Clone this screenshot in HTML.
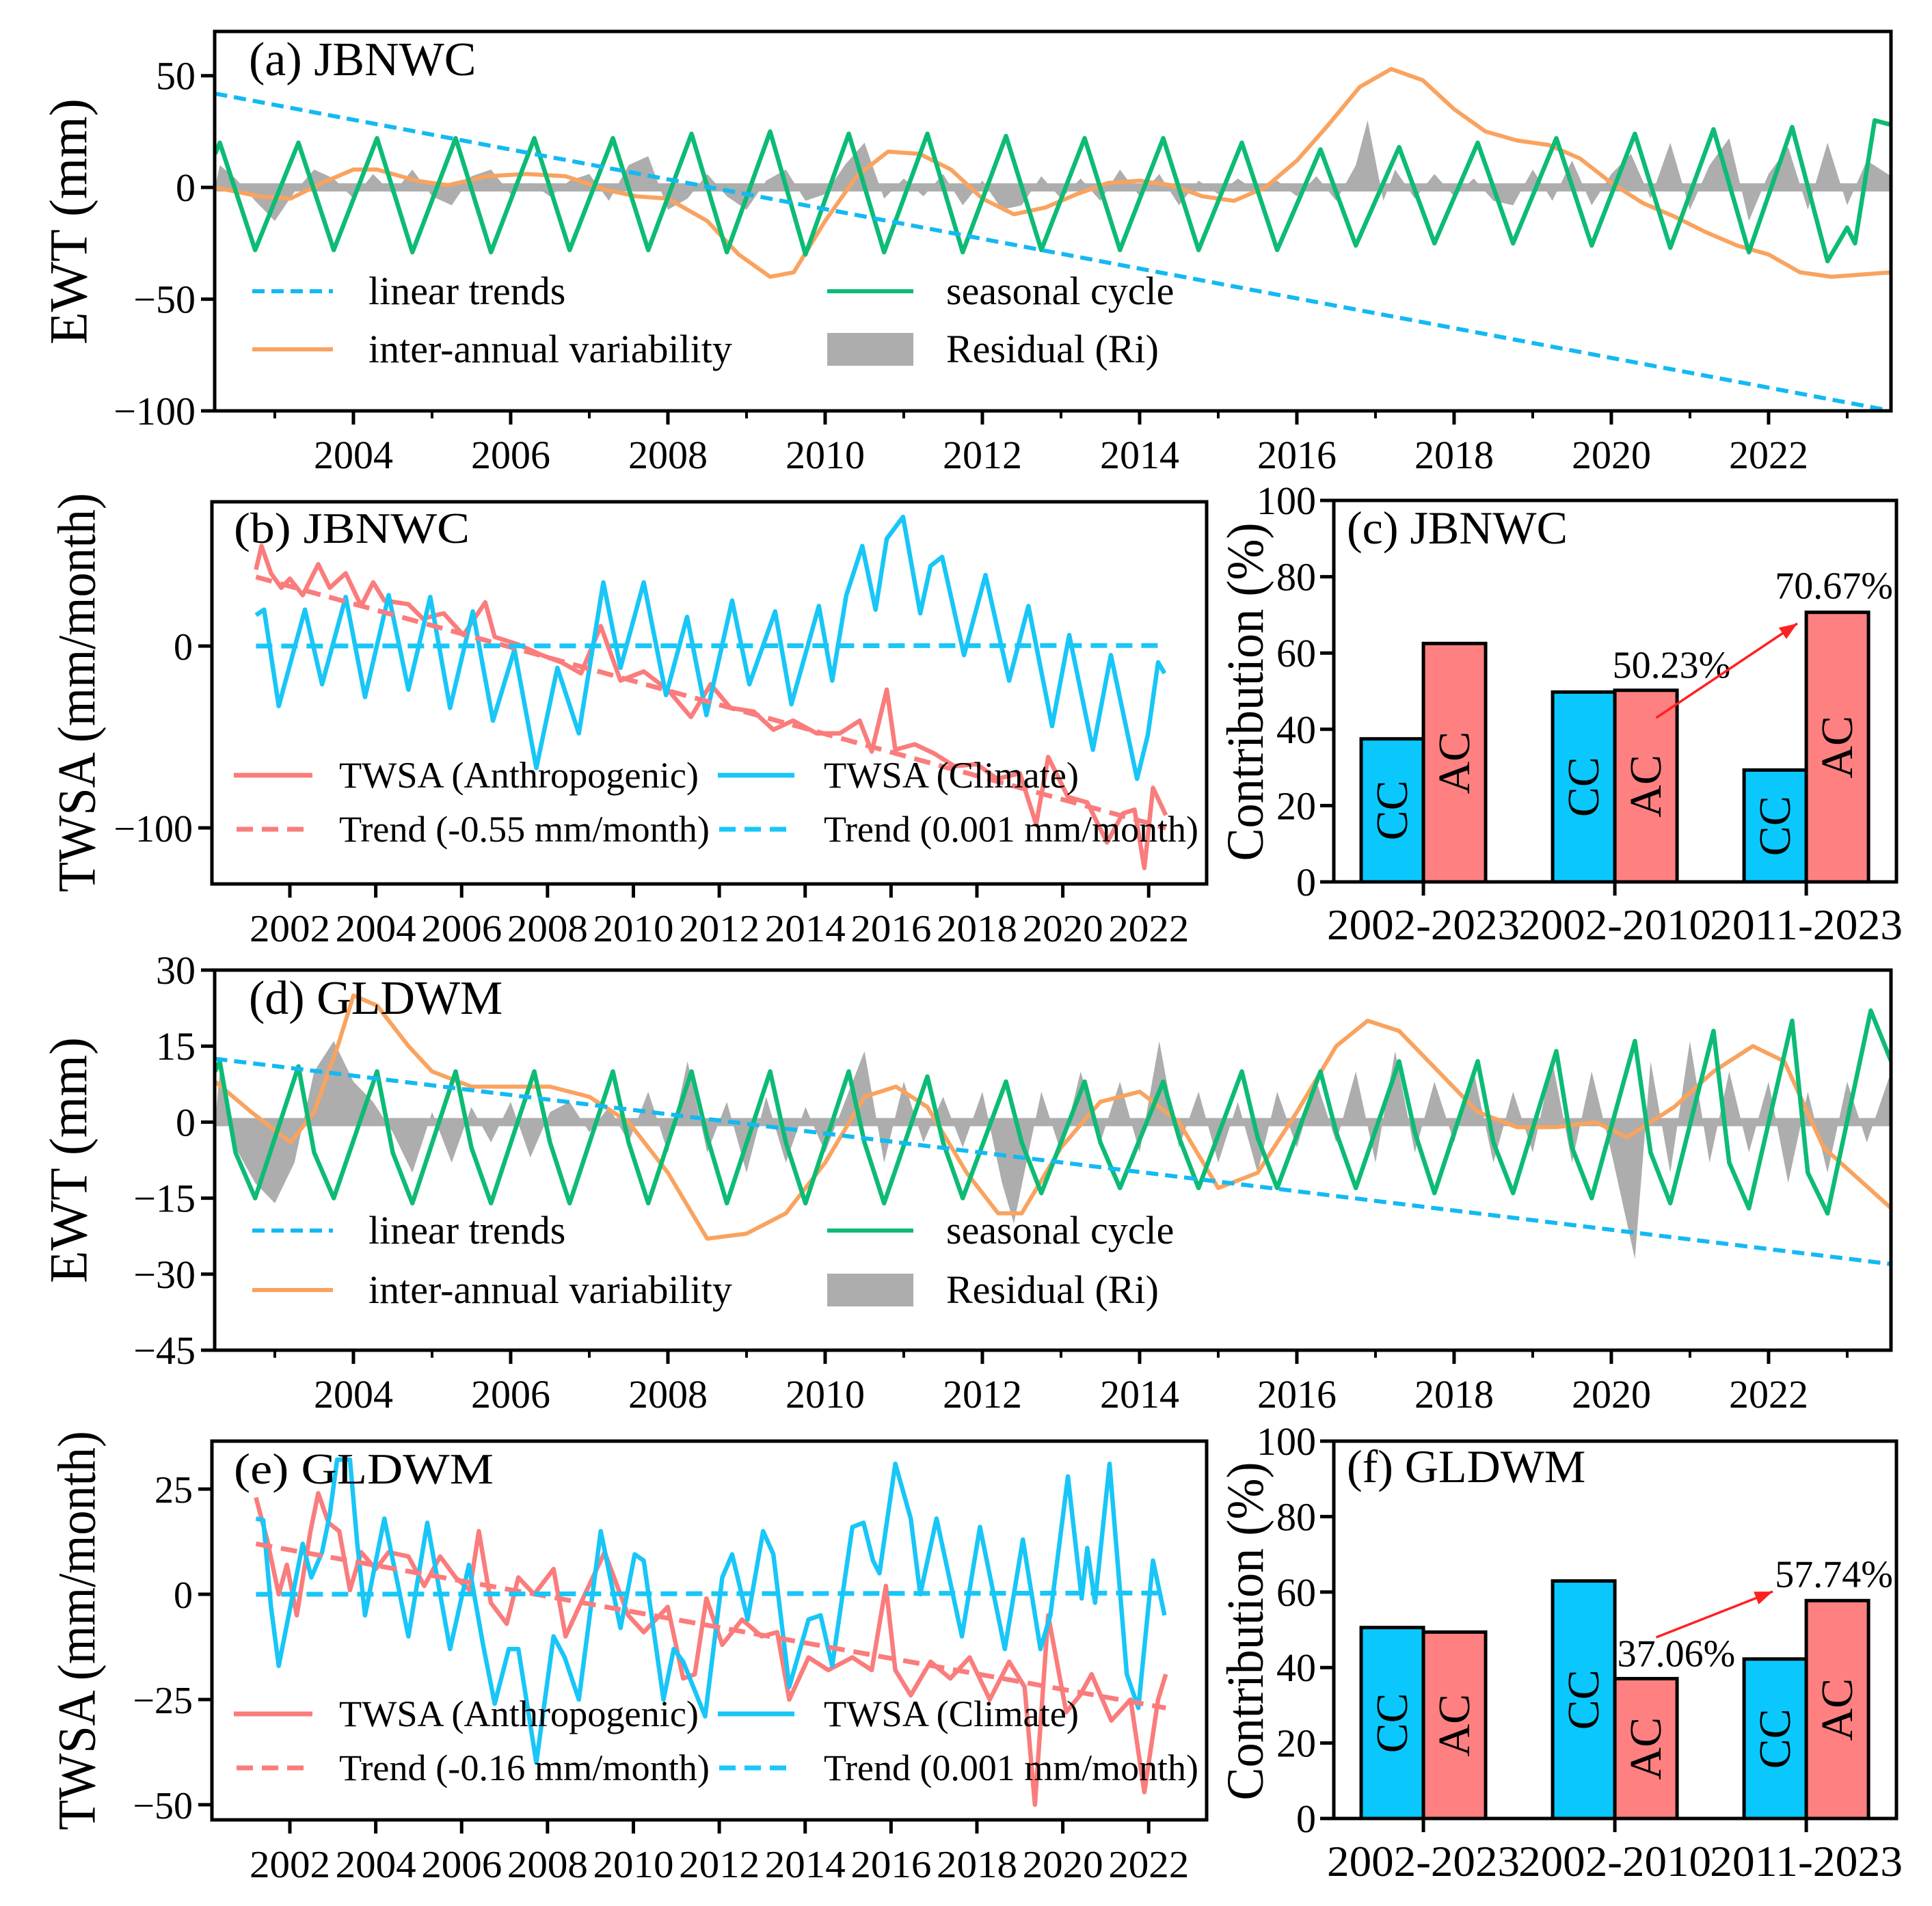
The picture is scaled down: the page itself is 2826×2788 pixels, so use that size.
<!DOCTYPE html>
<html><head><meta charset="utf-8">
<style>
html,body{margin:0;padding:0;background:#fff;}
svg{display:block;font-family:"Liberation Serif","Times New Roman",serif;}
</style></head>
<body>
<svg id="fig" width="2826" height="2788" viewBox="0 0 2826 2788" xmlns="http://www.w3.org/2000/svg"></svg>
<script>
// ---------- DATA ----------
const timeTickYears = [2004,2006,2008,2010,2012,2014,2016,2018,2020,2022];
const timeMinorYears = [2003,2005,2007,2009,2011,2013,2015,2017,2019,2021,2023];
const twsaTickYears = [2002,2004,2006,2008,2010,2012,2014,2016,2018,2020,2022];
const aYTicks = [-100,-50,0,50];
const dYTicks = [-45,-30,-15,0,15,30];
const bYTicks = [-100,0];
const eYTicks = [-50,-25,0,25];
const barYTicks = [0,20,40,60,80,100];
const periods = ["2002-2023","2002-2010","2011-2023"];

// (a) JBNWC
const aTrendT = [2002.24, 2023.56];
const aTrendV = [42, -100];
const aSeasonT = [2002.24,2002.3,2002.75,2003.3,2003.75,2004.3,2004.75,2005.3,2005.75,2006.3,2006.75,2007.3,2007.75,2008.3,2008.75,2009.3,2009.75,2010.3,2010.75,2011.3,2011.75,2012.3,2012.75,2013.3,2013.75,2014.3,2014.75,2015.3,2015.75,2016.3,2016.75,2017.3,2017.75,2018.3,2018.75,2019.3,2019.75,2020.3,2020.75,2021.3,2021.75,2022.3,2022.75,2023.0,2023.1,2023.35,2023.56];
const aSeasonV = [15,20,-28,20,-28,22,-29,22,-29,22,-28,22,-28,24,-29,25,-30,24,-29,24,-29,23,-28,22,-28,22,-28,20,-28,17,-26,18,-25,20,-25,22,-26,24,-27,26,-29,27,-33,-18,-25,30,28];
const aInterT = [2002.24,2002.8,2003.2,2003.6,2004.0,2004.3,2004.8,2005.2,2005.7,2006.2,2006.7,2007.2,2007.6,2008.0,2008.5,2008.9,2009.3,2009.6,2010.0,2010.4,2010.8,2011.2,2011.6,2012.0,2012.4,2012.8,2013.2,2013.6,2014.0,2014.4,2014.8,2015.2,2015.6,2016.0,2016.4,2016.8,2017.2,2017.6,2018.0,2018.4,2018.8,2019.2,2019.6,2020.0,2020.4,2020.8,2021.2,2021.6,2022.0,2022.4,2022.8,2023.56];
const aInterV = [0,-4,-5,2,8,8,3,1,5,6,5,-1,-4,-5,-15,-30,-40,-38,-15,5,16,15,8,-5,-12,-9,-3,2,3,1,-4,-6,0,12,28,45,53,48,35,25,21,19,13,2,-7,-13,-20,-26,-30,-38,-40,-38];
const aResT = [2002.24,2002.3,2002.5,2002.75,2003,2003.25,2003.5,2003.75,2004,2004.25,2004.5,2004.75,2005,2005.25,2005.5,2005.75,2006,2006.25,2006.5,2006.75,2007,2007.25,2007.5,2007.75,2008,2008.25,2008.5,2008.75,2009,2009.25,2009.5,2009.75,2010,2010.25,2010.5,2010.75,2011,2011.25,2011.5,2011.75,2012,2012.25,2012.5,2012.75,2013,2013.25,2013.5,2013.75,2014,2014.25,2014.5,2014.75,2015,2015.25,2015.5,2015.75,2016,2016.25,2016.5,2016.75,2016.9,2017.1,2017.25,2017.5,2017.75,2018,2018.25,2018.5,2018.75,2019,2019.25,2019.5,2019.75,2020,2020.25,2020.5,2020.75,2021,2021.25,2021.5,2021.75,2022,2022.25,2022.5,2022.75,2023,2023.25,2023.56];
const aResV = [0,10,4,-6,-15,-2,8,4,-5,6,-3,8,-4,-8,5,8,-3,2,-4,3,6,-6,10,14,-10,-5,6,-4,-10,3,8,-6,-3,10,20,-5,4,-4,6,-8,3,-10,-8,5,-5,4,-6,8,-4,6,-8,3,-3,4,-2,3,-4,5,-6,10,30,-6,8,-5,6,-4,4,-6,-8,8,-6,12,-8,6,15,-5,20,-10,10,22,-15,6,18,-10,20,-8,12,5];

// (d) GLDWM
const dTrendT = [2002.24, 2023.56];
const dTrendV = [12.5, -28];
const dSeasonT = [2002.24,2002.3,2002.5,2002.75,2003.3,2003.5,2003.75,2004.3,2004.5,2004.75,2005.3,2005.5,2005.75,2006.3,2006.5,2006.75,2007.3,2007.5,2007.75,2008.3,2008.5,2008.75,2009.3,2009.5,2009.75,2010.3,2010.5,2010.75,2011.3,2011.5,2011.75,2012.3,2012.5,2012.75,2013.3,2013.5,2013.75,2014.3,2014.5,2014.75,2015.3,2015.5,2015.75,2016.3,2016.5,2016.75,2017.3,2017.5,2017.75,2018.3,2018.5,2018.75,2019.3,2019.5,2019.75,2020.3,2020.5,2020.75,2021.3,2021.5,2021.75,2022.3,2022.5,2022.75,2023.3,2023.56];
const dSeasonV = [10,12,-6,-15,11,-6,-15,10,-6,-16,10,-5,-16,10,-4,-16,10,-4,-16,10,-3,-16,10,-4,-16,10,-4,-16,9,-4,-15,8,-4,-14,8,-4,-13,8,-3,-13,10,-3,-13,10,-2,-13,12,-2,-14,12,-4,-14,14,-5,-15,16,-6,-16,18,-8,-17,20,-10,-18,22,12];
const dInterT = [2002.24,2002.7,2003.2,2003.5,2003.8,2004.0,2004.3,2004.7,2005.0,2005.5,2006.0,2006.5,2007.0,2007.5,2008.0,2008.5,2009.0,2009.5,2010.0,2010.5,2010.9,2011.3,2011.8,2012.2,2012.5,2013.0,2013.5,2014.0,2014.5,2015.0,2015.5,2016.0,2016.5,2016.9,2017.3,2017.8,2018.3,2018.8,2019.3,2019.8,2020.2,2020.8,2021.3,2021.8,2022.2,2022.7,2023.56];
const dInterV = [8,2,-4,2,15,25,23,15,10,7,7,7,5,0,-10,-23,-22,-18,-8,5,7,3,-10,-18,-18,-5,4,6,0,-13,-10,2,15,20,18,10,2,-1,-1,0,-3,3,10,15,12,-5,-17];
const dResT = [2002.24,2002.3,2002.5,2002.75,2003,2003.25,2003.5,2003.75,2004,2004.25,2004.5,2004.75,2005,2005.25,2005.5,2005.75,2006,2006.25,2006.5,2006.75,2007,2007.25,2007.5,2007.75,2008,2008.25,2008.5,2008.75,2009,2009.25,2009.5,2009.75,2010,2010.25,2010.5,2010.75,2011,2011.25,2011.5,2011.75,2012,2012.25,2012.4,2012.6,2012.75,2013,2013.25,2013.5,2013.75,2014,2014.25,2014.5,2014.75,2015,2015.25,2015.5,2015.75,2016,2016.25,2016.5,2016.75,2017,2017.25,2017.5,2017.75,2018,2018.25,2018.5,2018.75,2019,2019.25,2019.5,2019.75,2020,2020.3,2020.5,2020.75,2021,2021.25,2021.5,2021.75,2022,2022.25,2022.5,2022.75,2023,2023.25,2023.56];
const dResV = [0,10,-5,-12,-16,-8,10,16,8,4,-2,-10,2,-8,3,-4,4,-7,2,4,-2,3,-4,6,-6,12,-6,4,-10,5,-8,3,-6,4,14,-8,8,-4,5,-5,6,-12,-20,-5,6,-6,10,-4,8,-6,16,-5,6,-8,4,-10,6,-5,8,-4,10,-8,14,-6,8,-4,10,-8,6,-6,12,-8,10,-6,-27,12,-10,16,-8,10,-6,8,-12,6,-10,8,-4,10];

// (b) JBNWC TWSA
const bAnthT = [2001.21,2001.34,2001.56,2001.8,2002.0,2002.3,2002.66,2002.93,2003.3,2003.66,2003.94,2004.2,2004.76,2005.1,2005.58,2006.04,2006.55,2006.77,2007.3,2007.87,2008.33,2008.78,2009.24,2009.7,2010.24,2010.8,2011.34,2011.8,2012.26,2012.8,2013.26,2013.72,2014.27,2014.81,2015.27,2015.55,2015.9,2016.1,2016.55,2017.0,2017.47,2018.0,2018.47,2019.0,2019.38,2019.66,2020.12,2020.57,2021.03,2021.4,2021.67,2021.9,2022.1,2022.4];
const bAnthV = [42,55,40,32,37,28,45,32,40,22,35,25,23,15,18,6,24,5,1,-5,-9,-15,11,-19,-14,-24,-39,-21,-34,-36,-46,-41,-48,-48,-41,-58,-24,-57,-54,-59,-66,-65,-73,-70,-98,-61,-83,-86,-108,-92,-90,-122,-78,-93];
const bClimT = [2001.21,2001.4,2001.74,2002.35,2002.75,2003.3,2003.75,2004.3,2004.76,2005.27,2005.73,2006.26,2006.73,2007.23,2007.74,2008.23,2008.73,2009.3,2009.7,2010.24,2010.76,2011.25,2011.7,2012.3,2012.7,2013.3,2013.68,2014.32,2014.63,2014.96,2015.33,2015.64,2015.9,2016.28,2016.68,2016.92,2017.19,2017.7,2018.2,2018.75,2019.2,2019.75,2020.15,2020.7,2021.12,2021.73,2021.98,2022.22,2022.37];
const bClimV = [17,20,-33,20,-21,27,-28,28,-24,27,-34,19,-41,-2,-67,-12,-48,35,-12,35,-27,16,-38,25,-21,19,-32,22,-19,28,55,20,59,71,18,44,49,-5,39,-19,22,-44,6,-57,-5,-73,-49,-9,-15];
const bAnthTrendT = [2001.21, 2022.4];
const bAnthTrendV = [38, -100];
const bClimTrendT = [2001.21, 2022.4];
const bClimTrendV = [0, 0.3];

// (e) GLDWM TWSA
const eAnthT = [2001.21,2001.47,2001.74,2001.93,2002.16,2002.48,2002.66,2002.9,2003.15,2003.4,2003.66,2004.0,2004.3,2004.76,2005.13,2005.5,2005.86,2006.19,2006.4,2006.68,2007.05,2007.32,2007.69,2008.14,2008.42,2008.87,2009.33,2009.88,2010.24,2010.8,2011.16,2011.43,2011.7,2012.07,2012.53,2012.99,2013.35,2013.63,2014.08,2014.54,2015.1,2015.55,2015.88,2016.1,2016.46,2016.92,2017.38,2017.83,2018.3,2018.75,2019.11,2019.35,2019.66,2020.08,2020.4,2020.67,2021.13,2021.58,2021.9,2022.22,2022.4];
const eAnthV = [23,13,0,7,-5,15,24,17,15,1,10,6,10,9,2,9,4,1,15,-2,-7,4,0,6,-10,0,10,-5,-9,-3,-20,-19,-1,-12,-6,-10,-9,-25,-15,-18,-15,-18,2,-18,-24,-16,-20,-15,-25,-16,-22,-50,-5,-28,-24,-19,-30,-25,-47,-25,-19];
const eClimT = [2001.21,2001.38,2001.56,2001.74,2002.3,2002.5,2002.75,2002.93,2003.1,2003.4,2003.57,2003.75,2004.2,2004.76,2005.2,2005.73,2006.17,2006.5,2006.77,2007.1,2007.32,2007.74,2008.14,2008.4,2008.73,2009.24,2009.7,2010.03,2010.24,2010.7,2010.94,2011.16,2011.67,2012.07,2012.3,2012.66,2013.02,2013.26,2013.63,2014.08,2014.36,2014.63,2015.1,2015.36,2015.58,2015.73,2016.1,2016.46,2016.68,2017.06,2017.65,2018.07,2018.65,2019.07,2019.48,2019.71,2020.12,2020.44,2020.57,2020.75,2021.09,2021.49,2021.76,2022.1,2022.37];
const eClimV = [18,17.6,-3,-17,12,4,10,19,32,32,12,-5,18,-10,17,-13,7,-12,-26,-13,-13,-40,-10,-15,-25,15,-8,9.5,8,-25,-13,-16,-29,4,9.5,-6,15,9.5,-22,-6,-5,-17,16,17,8,5,31,18,0,18,-10,16,-13,13,-13,-5,28,-1,11,-2,31,-19,-27,8,-5];
const eAnthTrendT = [2001.21, 2022.4];
const eAnthTrendV = [12, -27];
const eClimTrendT = [2001.21, 2022.4];
const eClimTrendV = [0, 0.3];

// (c),(f) contributions
const cCC = [37.5, 49.77, 29.33];
const cAC = [62.5, 50.23, 70.67];
const fCC = [50.6, 62.94, 42.26];
const fAC = [49.4, 37.06, 57.74];
const cLabels = ["50.23%", "70.67%"];
const fLabels = ["37.06%", "57.74%"];

// ---------- DRAWING ----------
const NS = "http://www.w3.org/2000/svg";
const svg = document.getElementById("fig");
function mk(tag, attrs, parent, name){
  const el = document.createElementNS(NS, tag);
  for (const k in attrs) el.setAttribute(k, attrs[k]);
  
  
  (parent || svg).appendChild(el);
  return el;
}
function txt(s, attrs, parent, name){ const t = mk("text", attrs, parent, name); t.textContent = s; return t; }
function fmt(v){ return v < 0 ? "\u2212" + Math.abs(v) : String(v); }

function axes(p){
  p.sx = v => p.x0 + (v - p.xmin) / (p.xmax - p.xmin) * (p.x1 - p.x0);
  p.sy = v => p.y1 - (v - p.ymin) / (p.ymax - p.ymin) * (p.y1 - p.y0);
  const g = mk("g", {}, svg, p.id + "-panel");
  const cp = mk("clipPath", {id: p.id + "-clip"}, g, p.id + "-clip");
  mk("rect", {x: p.x0, y: p.y0, width: p.x1 - p.x0, height: p.y1 - p.y0}, cp, p.id + "-clip-rect");
  p.g = g;
  p.plot = mk("g", {"clip-path": "url(#" + p.id + "-clip)"}, g, p.id + "-plot-area");
  return p;
}
function frame(p){
  mk("rect", {x: p.x0, y: p.y0, width: p.x1 - p.x0, height: p.y1 - p.y0, fill: "none", stroke: "#000", "stroke-width": 5}, p.g, p.id + "-frame");
}
function yTicks(p, ticks, fs){
  ticks.forEach(v => {
    const y = p.sy(v);
    mk("line", {x1: p.x0 - 20, x2: p.x0, y1: y, y2: y, stroke: "#000", "stroke-width": 5}, p.g, p.id + "-y-tick");
    txt(fmt(v), {x: p.x0 - 28, y: y + 20, "font-size": fs, "text-anchor": "end"}, p.g, p.id + "-y-tick-label");
  });
}
function xTicks(p, major, minor, fs, len){
  major.forEach(v => {
    const x = p.sx(v);
    mk("line", {x1: x, x2: x, y1: p.y1, y2: p.y1 + len, stroke: "#000", "stroke-width": 5}, p.g, p.id + "-x-tick");
    txt(String(v), {x: x, y: p.y1 + len + 64, "font-size": fs, "text-anchor": "middle"}, p.g, p.id + "-x-tick-label");
  });
  (minor || []).forEach(v => {
    if (v > p.xmax) return;
    const x = p.sx(v);
    mk("line", {x1: x, x2: x, y1: p.y1, y2: p.y1 + 11, stroke: "#000", "stroke-width": 4}, p.g, p.id + "-x-minor-tick");
  });
}
function linePath(p, T, V){
  return T.map((t, i) => (i ? "L" : "M") + p.sx(t).toFixed(1) + "," + p.sy(V[i]).toFixed(1)).join("");
}
function line(p, T, V, color, w, dash, name){
  const a = {d: linePath(p, T, V), fill: "none", stroke: color, "stroke-width": w, "stroke-linejoin": "round"};
  if (dash) a["stroke-dasharray"] = dash;
  return mk("path", a, p.plot, name);
}
function area(p, T, V, color, name){
  let d = "M" + p.sx(T[0]) + "," + p.sy(0);
  T.forEach((t, i) => { d += "L" + p.sx(t).toFixed(1) + "," + p.sy(V[i]).toFixed(1); });
  d += "L" + p.sx(T[T.length - 1]) + "," + p.sy(0) + "Z";
  mk("path", {d: d, fill: color, stroke: "none"}, p.plot, name);
}
function ylabel(x, y, s, fs, len, name){
  txt(s, {x: x, y: y, "font-size": fs, "text-anchor": "middle", transform: "rotate(-90 " + x + " " + y + ")", textLength: len, lengthAdjust: "spacingAndGlyphs", "dominant-baseline": "central"}, svg, name);
}

const BLUE_D = "#14b9f2", GREEN = "#0dbb74", ORANGE = "#f9a35f", GREY = "#adadad";
const RED_L = "#fa7c7c", BLUE_L = "#18c6f7", BAR_B = "#0ac8fd", BAR_R = "#ff8080";

// ---- EWT panels (a), (d) ----
function ewtPanel(cfg){
  const p = axes(cfg);
  area(p, cfg.resT, cfg.resV, GREY, p.id + "-residual-area");
  mk("line", {x1: p.x0, x2: p.x1, y1: p.sy(0), y2: p.sy(0), stroke: GREY, "stroke-width": 12}, p.plot, p.id + "-zero-band");
  line(p, cfg.interT, cfg.interV, ORANGE, 6, null, p.id + "-inter-annual-line");
  line(p, cfg.seasT, cfg.seasV, GREEN, 6.5, null, p.id + "-seasonal-line");
  line(p, cfg.trT, cfg.trV, BLUE_D, 6, "18 10", p.id + "-linear-trend-line");
  frame(p);
  yTicks(p, cfg.yt, 58);
  xTicks(p, timeTickYears, timeMinorYears, 58, 20);
  txt(cfg.title, {x: 364, y: p.y0 + 64, "font-size": 70}, p.g, p.id + "-title");
  const r1 = p.y0 + cfg.leg1, r2 = p.y0 + cfg.leg2;
  const lg = mk("g", {}, p.g, p.id + "-legend");
  mk("line", {x1: 369, x2: 487, y1: r1, y2: r1, stroke: BLUE_D, "stroke-width": 6, "stroke-dasharray": "18 10"}, lg, "legend-linear-trends-handle");
  txt("linear trends", {x: 539, y: r1 + 19, "font-size": 58}, lg, "legend-linear-trends-label");
  mk("line", {x1: 369, x2: 487, y1: r2, y2: r2, stroke: ORANGE, "stroke-width": 6}, lg, "legend-inter-annual-handle");
  txt("inter-annual variability", {x: 539, y: r2 + 19, "font-size": 58}, lg, "legend-inter-annual-label");
  mk("line", {x1: 1210, x2: 1336, y1: r1, y2: r1, stroke: GREEN, "stroke-width": 6}, lg, "legend-seasonal-handle");
  txt("seasonal cycle", {x: 1384, y: r1 + 19, "font-size": 58}, lg, "legend-seasonal-label");
  mk("rect", {x: 1210, y: r2 - 24, width: 126, height: 48, fill: GREY}, lg, "legend-residual-handle");
  txt("Residual (Ri)", {x: 1384, y: r2 + 19, "font-size": 58}, lg, "legend-residual-label");
  return p;
}
ewtPanel({id: "panel-a", x0: 314, x1: 2766, y0: 46, y1: 601, xmin: 2002.235, xmax: 2023.557, ymin: -100, ymax: 69.8,
  resT: aResT, resV: aResV, interT: aInterT, interV: aInterV, seasT: aSeasonT, seasV: aSeasonV, trT: aTrendT, trV: aTrendV,
  yt: aYTicks, title: "(a) JBNWC", leg1: 380, leg2: 465});
ewtPanel({id: "panel-d", x0: 314, x1: 2766, y0: 1419, y1: 1975, xmin: 2002.235, xmax: 2023.557, ymin: -45, ymax: 30,
  resT: dResT, resV: dResV, interT: dInterT, interV: dInterV, seasT: dSeasonT, seasV: dSeasonV, trT: dTrendT, trV: dTrendV,
  yt: dYTicks, title: "(d) GLDWM", leg1: 381, leg2: 468});
ylabel(100, 324, "EWT (mm)", 78, 360, "panel-a-y-axis-title");
ylabel(100, 1697, "EWT (mm)", 78, 360, "panel-d-y-axis-title");

// ---- TWSA panels (b), (e) ----
function twsaPanel(cfg){
  const p = axes(cfg);
  line(p, cfg.anT, cfg.anV, RED_L, 6.5, null, p.id + "-anthropogenic-line");
  line(p, cfg.clT, cfg.clV, BLUE_L, 6.5, null, p.id + "-climate-line");
  line(p, cfg.atT, cfg.atV, RED_L, 7, "24 13", p.id + "-anthropogenic-trend-line");
  line(p, cfg.ctT, cfg.ctV, BLUE_L, 7, "24 13", p.id + "-climate-trend-line");
  frame(p);
  yTicks(p, cfg.yt, 56);
  twsaTickYears.forEach(v => {
    const x = p.sx(v);
    mk("line", {x1: x, x2: x, y1: p.y1, y2: p.y1 + 20, stroke: "#000", "stroke-width": 5}, p.g, p.id + "-x-tick");
    txt(String(v), {x: x, y: p.y1 + 84, "font-size": 56, "text-anchor": "middle", textLength: 118, lengthAdjust: "spacingAndGlyphs"}, p.g, p.id + "-x-tick-label");
  });
  txt(cfg.title, {x: 342, y: p.y0 + cfg.tOff, "font-size": 64, textLength: cfg.tLen, lengthAdjust: "spacingAndGlyphs"}, p.g, p.id + "-title");
  const r1 = cfg.l1, r2 = cfg.l2;
  const lg = mk("g", {}, p.g, p.id + "-legend");
  mk("line", {x1: 342, x2: 457, y1: r1, y2: r1, stroke: RED_L, "stroke-width": 7}, lg, "legend-anthropogenic-handle");
  txt("TWSA (Anthropogenic)", {x: 496, y: r1 + 18, "font-size": 54, textLength: 526, lengthAdjust: "spacingAndGlyphs"}, lg, "legend-anthropogenic-label");
  mk("line", {x1: 346, x2: 455, y1: r2, y2: r2, stroke: RED_L, "stroke-width": 7, "stroke-dasharray": "24 13"}, lg, "legend-anthropogenic-trend-handle");
  txt(cfg.anTrendLabel, {x: 496, y: r2 + 18, "font-size": 54, textLength: 542, lengthAdjust: "spacingAndGlyphs"}, lg, "legend-anthropogenic-trend-label");
  mk("line", {x1: 1050, x2: 1162, y1: r1, y2: r1, stroke: BLUE_L, "stroke-width": 7}, lg, "legend-climate-handle");
  txt("TWSA (Climate)", {x: 1205, y: r1 + 18, "font-size": 54, textLength: 373, lengthAdjust: "spacingAndGlyphs"}, lg, "legend-climate-label");
  mk("line", {x1: 1052, x2: 1160, y1: r2, y2: r2, stroke: BLUE_L, "stroke-width": 7, "stroke-dasharray": "24 13"}, lg, "legend-climate-trend-handle");
  txt("Trend (0.001 mm/month)", {x: 1205, y: r2 + 18, "font-size": 54, textLength: 548, lengthAdjust: "spacingAndGlyphs"}, lg, "legend-climate-trend-label");
  return p;
}
twsaPanel({id: "panel-b", x0: 310, x1: 1765, y0: 734, y1: 1293, xmin: 2000.185, xmax: 2023.35, ymin: -130.8, ymax: 79.3,
  anT: bAnthT, anV: bAnthV, clT: bClimT, clV: bClimV, atT: bAnthTrendT, atV: bAnthTrendV, ctT: bClimTrendT, ctV: bClimTrendV,
  yt: bYTicks, title: "(b) JBNWC", tOff: 60, tLen: 345, l1: 1134, l2: 1213, anTrendLabel: "Trend (-0.55 mm/month)"});
twsaPanel({id: "panel-e", x0: 310, x1: 1765, y0: 2108, y1: 2662, xmin: 2000.185, xmax: 2023.35, ymin: -53.6, ymax: 36.4,
  anT: eAnthT, anV: eAnthV, clT: eClimT, clV: eClimV, atT: eAnthTrendT, atV: eAnthTrendV, ctT: eClimTrendT, ctV: eClimTrendV,
  yt: eYTicks, title: "(e) GLDWM", tOff: 62, tLen: 380, l1: 2507, l2: 2586, anTrendLabel: "Trend (-0.16 mm/month)"});
ylabel(112, 1013, "TWSA (mm/month)", 78, 584, "panel-b-y-axis-title");
ylabel(112, 2385, "TWSA (mm/month)", 78, 584, "panel-e-y-axis-title");

// ---- Contribution bar panels (c), (f) ----
function barPanel(cfg){
  const p = axes(Object.assign(cfg, {xmin: -0.468, xmax: 2.471, ymin: 0, ymax: 100}));
  const bw = 0.325;
  periods.forEach((per, i) => {
    const xc = p.sx(i);
    const wpx = p.sx(bw) - p.sx(0);
    const ccTop = p.sy(cfg.cc[i]), acTop = p.sy(cfg.ac[i]);
    mk("rect", {x: xc - wpx, y: ccTop, width: wpx, height: p.sy(0) - ccTop, fill: BAR_B, stroke: "#000", "stroke-width": 5}, p.g, p.id + "-bar-cc-" + per);
    mk("rect", {x: xc, y: acTop, width: wpx, height: p.sy(0) - acTop, fill: BAR_R, stroke: "#000", "stroke-width": 5}, p.g, p.id + "-bar-ac-" + per);
    const cx1 = xc - wpx / 2, cy1 = p.sy(cfg.cc[i] / 2);
    txt("CC", {x: cx1, y: cy1, "font-size": 66, "text-anchor": "middle", "dominant-baseline": "central", transform: "rotate(-90 " + cx1 + " " + cy1 + ")"}, p.g, p.id + "-cc-label");
    const cx2 = xc + wpx / 2, cy2 = p.sy(cfg.ac[i] / 2);
    txt("AC", {x: cx2, y: cy2, "font-size": 66, "text-anchor": "middle", "dominant-baseline": "central", transform: "rotate(-90 " + cx2 + " " + cy2 + ")"}, p.g, p.id + "-ac-label");
    mk("line", {x1: xc, x2: xc, y1: p.y1, y2: p.y1 + 20, stroke: "#000", "stroke-width": 5}, p.g, p.id + "-x-tick");
    txt(per, {x: xc, y: p.y1 + 84, "font-size": 64, "text-anchor": "middle", textLength: 282, lengthAdjust: "spacingAndGlyphs"}, p.g, p.id + "-x-tick-label");
  });
  frame(p);
  barYTicks.forEach(v => {
    const y = p.sy(v);
    mk("line", {x1: p.x0 - 20, x2: p.x0, y1: y, y2: y, stroke: "#000", "stroke-width": 5}, p.g, p.id + "-y-tick");
    txt(String(v), {x: p.x0 - 26, y: y + 20, "font-size": 58, "text-anchor": "end"}, p.g, p.id + "-y-tick-label");
  });
  txt(cfg.title, {x: 1970, y: p.y0 + cfg.tOff, "font-size": 68}, p.g, p.id + "-title");
  const wpx = p.sx(bw) - p.sx(0);
  const x1s = p.sx(1) + wpx / 2, x2s = p.sx(2) + wpx / 2;
  txt(cfg.lab[0], {x: cfg.l0x, y: p.sy(cfg.ac[1]) - 18, "font-size": 56, "text-anchor": "middle"}, p.g, p.id + "-annotation-period2");
  txt(cfg.lab[1], {x: x2s - 5, y: p.sy(cfg.ac[2]) - 20, "font-size": 56, "text-anchor": "middle"}, p.g, p.id + "-annotation-period3");
  const ax1 = x1s + 15, ay1 = cfg.ay1, ax2 = cfg.ax2, ay2 = cfg.ay2;
  mk("line", {x1: ax1, y1: ay1, x2: ax2, y2: ay2, stroke: "#ff2020", "stroke-width": 3.5}, p.g, p.id + "-arrow-line");
  const ang = Math.atan2(ay2 - ay1, ax2 - ax1), L = 26, Wd = 10;
  const bx = ax2 - L * Math.cos(ang), by = ay2 - L * Math.sin(ang);
  const hp = [ax2 + "," + ay2, (bx + Wd * Math.sin(ang)) + "," + (by - Wd * Math.cos(ang)), (bx - Wd * Math.sin(ang)) + "," + (by + Wd * Math.cos(ang))].join(" ");
  mk("polygon", {points: hp, fill: "#ff2020"}, p.g, p.id + "-arrow-head");
  return p;
}
barPanel({id: "panel-c", x0: 1951, x1: 2774, y0: 732, y1: 1290, cc: cCC, ac: cAC, lab: cLabels, title: "(c) JBNWC", tOff: 63,
  l0x: 2445, ay1: 1050, ax2: 2629, ay2: 912});
barPanel({id: "panel-f", x0: 1951, x1: 2774, y0: 2108, y1: 2660, cc: fCC, ac: fAC, lab: fLabels, title: "(f) GLDWM", tOff: 60,
  l0x: 2452, ay1: 2395, ax2: 2593, ay2: 2328});
ylabel(1822, 1012, "Contribution (%)", 76, 495, "panel-c-y-axis-title");
ylabel(1822, 2386, "Contribution (%)", 76, 495, "panel-f-y-axis-title");
</script>
</body></html>
